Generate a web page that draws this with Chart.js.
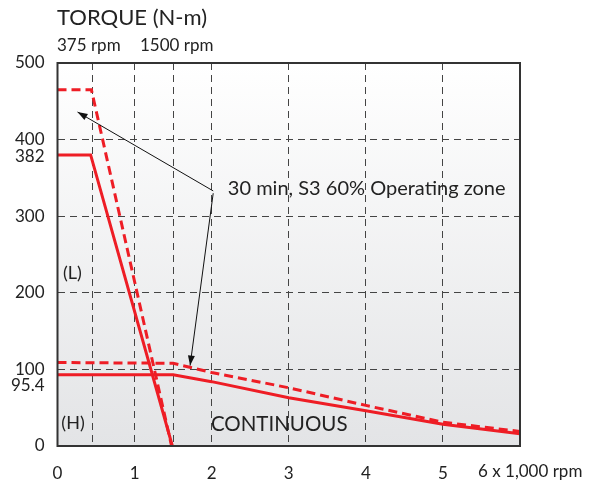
<!DOCTYPE html>
<html>
<head>
<meta charset="utf-8">
<script src="https://cdn.jsdelivr.net/npm/chart.js@4"></script>
<style>
  html, body { margin: 0; padding: 0; background: #fff; }
  #wrap { width: 589px; height: 484px; }
</style>
</head>
<body>
<div id="wrap"><canvas id="myChart" width="589" height="484"></canvas></div>
<script>
// speed in x 1,000 rpm, torque in N-m
const rpmLowS3 = [0, 0.44, 1.48]
const torqueLowS3 = [465, 465, 0]
const rpmLowS1 = [0, 0.43, 1.49]
const torqueLowS1 = [380, 380, 0]
const rpmHigh = [0, 1.5, 2, 3, 4, 5, 6]
const torqueHighS3 = [109, 108, 96, 76, 53, 31, 19]
const torqueHighS1 = [93, 93, 84, 63, 46, 28.5, 16]

const xTicks = [0, 0.45, 1, 1.5, 2, 3, 4, 5, 6]
const xLabels = { 0: '0', 1: '1', 2: '2', 3: '3', 4: '4', 5: '5' }
const xLastLabel = '6 x 1,000 rpm'
const yExtraTicks = [95.4, 382]

const RED = '#ee1d25'
const FONT = 'Lato, "Open Sans", sans-serif'

function pts(xs, ys) {
    return xs.map((x, i) => ({ x: x, y: ys[i] }))
}

function arrow(ctx, x1, y1, x2, y2) {
    ctx.beginPath()
    ctx.moveTo(x1, y1)
    ctx.lineTo(x2, y2)
    ctx.stroke()
    const a = Math.atan2(y2 - y1, x2 - x1)
    const len = 10, w = 3.5
    ctx.beginPath()
    ctx.moveTo(x2, y2)
    ctx.lineTo(x2 - len * Math.cos(a) + w * Math.sin(a), y2 - len * Math.sin(a) - w * Math.cos(a))
    ctx.lineTo(x2 - len * Math.cos(a) - w * Math.sin(a), y2 - len * Math.sin(a) + w * Math.cos(a))
    ctx.closePath()
    ctx.fill()
}

const decor = {
    id: 'decor',
    beforeDraw(chart) {
        const { ctx, chartArea: a } = chart
        const g = ctx.createLinearGradient(0, a.top, 0, a.bottom)
        g.addColorStop(0, '#ffffff')
        g.addColorStop(1, '#e3e4e6')
        ctx.save()
        ctx.fillStyle = g
        ctx.fillRect(a.left, a.top, a.right - a.left, a.bottom - a.top)
        ctx.restore()
    },
    afterDatasetsDraw(chart) {
        const { ctx, chartArea: a, scales: { x, y } } = chart
        ctx.save()
        // frame
        ctx.strokeStyle = '#333'
        ctx.lineWidth = 2
        ctx.strokeRect(a.left, a.top, a.right - a.left, a.bottom - a.top)

        // arrows
        ctx.strokeStyle = '#111'
        ctx.fillStyle = '#111'
        ctx.lineWidth = 1
        arrow(ctx, x.getPixelForValue(2.02), y.getPixelForValue(333), x.getPixelForValue(0.26), y.getPixelForValue(436))
        arrow(ctx, x.getPixelForValue(2.02), y.getPixelForValue(330), x.getPixelForValue(1.72), y.getPixelForValue(105))

        // texts inside plot
        ctx.fillStyle = '#222'
        ctx.textBaseline = 'middle'
        ctx.textAlign = 'left'
        ctx.font = '20px ' + FONT
        ctx.fillText('30 min, S3 60% Operating zone', x.getPixelForValue(2.21), y.getPixelForValue(336))
        ctx.font = '20.5px ' + FONT
        ctx.fillText('CONTINUOUS', x.getPixelForValue(1.99), y.getPixelForValue(28))
        ctx.font = '18px ' + FONT
        ctx.fillText('(L)', x.getPixelForValue(0.07), y.getPixelForValue(225))
        ctx.fillText('(H)', x.getPixelForValue(0.05), y.getPixelForValue(30))

        // extra y labels, nudged apart from 100 / 400
        ctx.textAlign = 'right'
        ctx.font = '17px ' + FONT
        ctx.fillText('95.4', a.left - 13, y.getPixelForValue(yExtraTicks[0]) + 13)
        ctx.fillText('382', a.left - 13, y.getPixelForValue(yExtraTicks[1]) + 3)

        // last x label, hangs past the plot edge
        ctx.textAlign = 'left'
        ctx.fillText(xLastLabel, x.getPixelForValue(6) - 42, a.bottom + 26)

        // header
        ctx.font = '22px ' + FONT
        ctx.fillText('TORQUE (N-m)', 57, 18)
        ctx.font = '17px ' + FONT
        ctx.fillText('375 rpm', 57, 46)
        ctx.fillText('1500 rpm', 140, 46)
        ctx.restore()
    }
}

function render_chart() {
    const data = {
        datasets: [
            {
                label: 'L S3',
                data: pts(rpmLowS3, torqueLowS3),
                borderColor: RED,
                borderWidth: 3,
                borderDash: [9, 5],
            },
            {
                label: 'L S1',
                data: pts(rpmLowS1, torqueLowS1),
                borderColor: RED,
                borderWidth: 3,
            },
            {
                label: 'H S3',
                data: pts(rpmHigh, torqueHighS3),
                borderColor: RED,
                borderWidth: 3,
                borderDash: [9, 5],
            },
            {
                label: 'H S1',
                data: pts(rpmHigh, torqueHighS1),
                borderColor: RED,
                borderWidth: 3,
            },
        ],
    }

    const config = {
        type: 'line',
        data: data,
        options: {
            responsive: false,
            animation: false,
            events: [],
            layout: { padding: { top: 63, right: 69, left: 0, bottom: 0 } },
            elements: { point: { radius: 0 }, line: { tension: 0, fill: false } },
            plugins: { legend: { display: false }, tooltip: { enabled: false } },
            scales: {
                x: {
                    type: 'linear',
                    min: 0,
                    max: 6,
                    afterBuildTicks: (s) => { s.ticks = xTicks.map(v => ({ value: v })) },
                    afterFit: (s) => { s.height = 38 },
                    ticks: {
                        autoSkip: false,
                        maxRotation: 0,
                        padding: 17,
                        color: '#222',
                        font: { family: FONT, size: 17 },
                        callback: (v) => (v in xLabels ? xLabels[v] : ''),
                    },
                    grid: {
                        drawTicks: false,
                        color: (c) => (c.tick && (c.tick.value === 0 || c.tick.value === 6) ? 'rgba(0,0,0,0)' : '#444'),
                        lineWidth: 1,
                    },
                    border: { display: false, dash: [7, 5] },
                },
                y: {
                    min: 0,
                    max: 500,
                    afterFit: (s) => { s.width = 57.5 },
                    ticks: {
                        stepSize: 100,
                        padding: 13,
                        color: '#222',
                        font: { family: FONT, size: 17 },
                    },
                    grid: {
                        drawTicks: false,
                        color: (c) => (c.tick && (c.tick.value === 0 || c.tick.value === 500) ? 'rgba(0,0,0,0)' : '#444'),
                        lineWidth: 1,
                    },
                    border: { display: false, dash: [7, 5] },
                },
            },
        },
        plugins: [decor],
    }

    const myChart = new Chart(document.getElementById('myChart'), config)
}

document.addEventListener('DOMContentLoaded', render_chart)
</script>
</body>
</html>
